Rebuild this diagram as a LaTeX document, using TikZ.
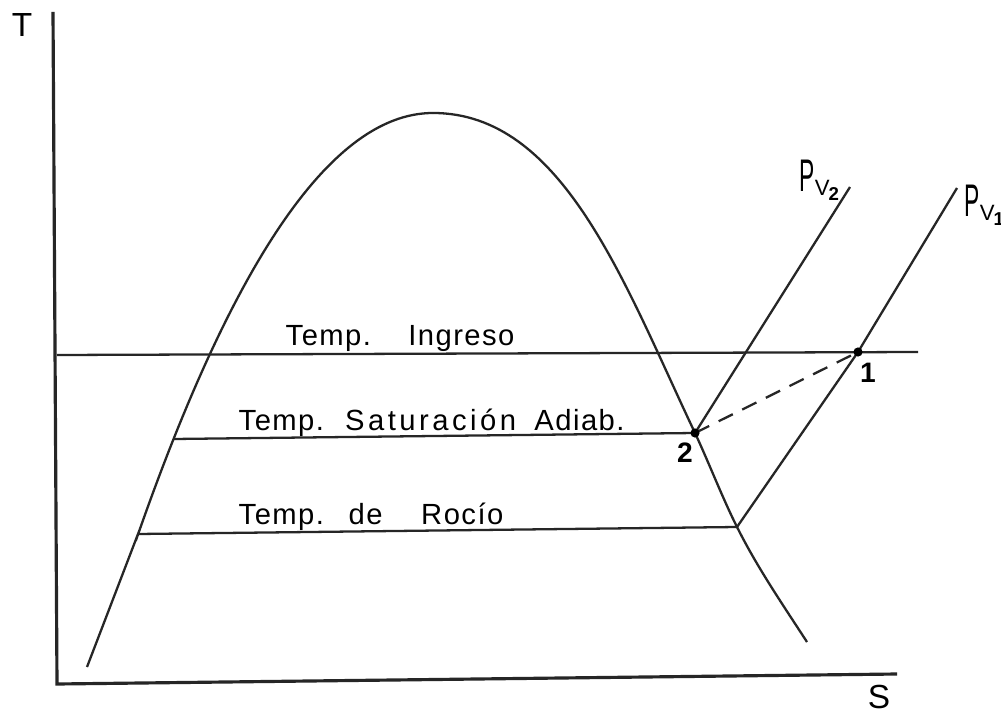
\documentclass[tikz,border=0pt]{standalone}
\usepackage{fontspec}
\setmainfont{Liberation Sans}
\newfontfamily\hand[LetterSpace=5]{Liberation Sans}
\newfontfamily\handwide[LetterSpace=12]{Liberation Sans}
\begin{document}
\begin{tikzpicture}[x=0.01cm,y=-0.01cm,
  axis/.style={line width=0.9pt,black!85},
  curve/.style={line width=0.65pt,black!85},
  lbl/.style={font=\hand\fontsize{8.3}{10}\selectfont,inner sep=0pt,anchor=base west},
  ptlbl/.style={font=\bfseries\fontsize{8}{9}\selectfont,inner sep=0pt},
  axlbl/.style={font=\fontsize{9.5}{11}\selectfont,inner sep=0pt},
  pvlbl/.style={inner sep=0pt,anchor=base west}]
\path[use as bounding box,fill=white] (0,0) rectangle (1001,713);
% points
\coordinate (O) at (57,684);
\coordinate (Ytop) at (53,12);
\coordinate (Xend) at (897,674);
\coordinate (Top) at (433,113);
\coordinate (Lend) at (87,667);
\coordinate (Rend) at (807,642);
\coordinate (Ia) at (57,355);
\coordinate (Ib) at (918,352);
\coordinate (Sa) at (173.5,439);
\coordinate (P2) at (695,433);
\coordinate (Ra) at (138,534);
\coordinate (Rb) at (737,527);
\coordinate (P1) at (858,352);
\coordinate (V2top) at (850,187);
\coordinate (V1top) at (957,188);
% axes
\draw[axis] (Ytop) -- (O) -- (Xend);
\node[axlbl] (T) at (22,25) {T};
\node[axlbl] (S) at (879,697) {S};
% dome: left branch
\draw[curve] (Lend) -- (Ra) -- plot[domain=295:0,samples=60] ({433-\x},{113+(\x/14.37)*(\x/14.37)});
% dome: right branch
\draw[curve] (Top) .. controls (563,113) and (624,283) .. (P2)
  .. controls (709,463) and (722,497) .. (Rb)
  .. controls (757,567) and (781,602) .. (Rend);
% isotherms
\draw[curve] (Ia) -- (Ib);
\draw[curve] (Sa) -- (P2);
\draw[curve] (Ra) -- (Rb);
% pressure lines
\draw[curve] (P2) -- (V2top);
\draw[curve] (Rb) -- (P1) -- (V1top);
\draw[curve,dash pattern=on 4.5pt off 3pt] (P2) -- (P1);
\fill (P1) circle (1.3pt);
\fill (P2) circle (1.3pt);
% labels
\node[lbl] (L1) at (285,346) {Temp.\hspace{10.6pt}Ingreso};
\node[lbl] (L2) at (238,430) {Temp.\hspace{6pt}{\handwide Saturación}\hspace{5.2pt}Adiab.};
\node[lbl] (L3) at (238,524) {Temp.\hspace{7pt}de\hspace{11pt}Rocío};
\node[ptlbl] (n1) at (868,373) {1};
\node[ptlbl] (n2) at (685,453) {2};
\node[pvlbl] (pv2) at (799,192) {\fontsize{13}{14}\selectfont\scalebox{0.5}[1]{P}\raisebox{-1pt}{\fontsize{6.3}{7}\selectfont V\kern-0.3pt\raisebox{-1.4pt}{\fontsize{5.3}{6}\selectfont\bfseries 2}}};
\node[pvlbl] (pv1) at (964,217) {\fontsize{13}{14}\selectfont\scalebox{0.5}[1]{P}\raisebox{-1pt}{\fontsize{6.3}{7}\selectfont V\kern-0.3pt\raisebox{-1.4pt}{\fontsize{5.3}{6}\selectfont\bfseries 1}}};
\end{tikzpicture}
\end{document}
